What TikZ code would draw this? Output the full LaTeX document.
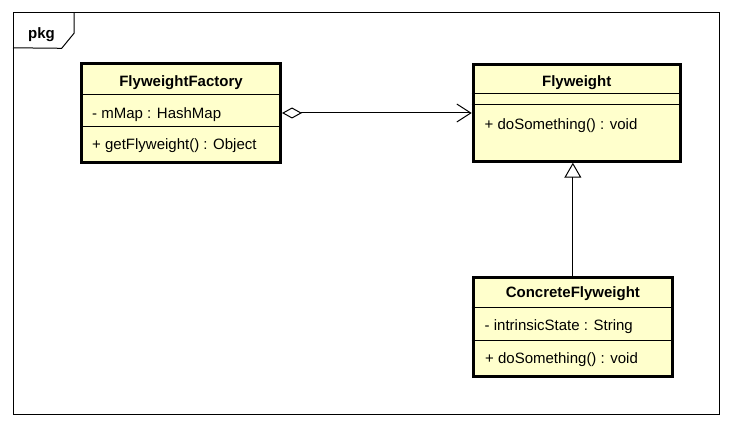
\documentclass[tikz,border=0pt]{standalone}
\usepackage{fontspec}
\setmainfont{Liberation Sans}
\usetikzlibrary{arrows.meta}
\definecolor{clsfill}{RGB}{255,255,204}
\begin{document}
\begin{tikzpicture}[x=1pt,y=-1pt,
  cls/.style={draw=black, line width=3pt, fill=clsfill, inner sep=0pt, anchor=north west},
  txt/.style={font=\fontsize{15}{18}\selectfont, inner sep=0pt, anchor=base west},
  bold/.style={font=\fontsize{15}{18}\selectfont\bfseries, inner sep=0pt, anchor=base},
  sep/.style={line width=1pt},
  conn/.style={line width=1pt}]
\useasboundingbox (0,0) rectangle (733,430);
\fill[white] (0,0) rectangle (733,430);
% frame
\node[draw, line width=1pt, inner sep=0pt, minimum width=706pt, minimum height=401pt, anchor=north west] (frame) at (12.5,12.5) {};
\draw[line width=1pt] (frame.north west) ++(0.5,35.3) -- (61.7,48.3) -- (74,33.3) -- (74,13);
\node[bold, anchor=base west] (pkg) at (28,38.5) {pkg};

% FlyweightFactory
\node[cls, minimum width=199pt, minimum height=99pt] (ff) at (80,62) {};
\draw[sep] ([yshift=-32.5pt]ff.north west) -- ([yshift=-32.5pt]ff.north east);
\draw[sep] ([yshift=-64.7pt]ff.north west) -- ([yshift=-64.7pt]ff.north east);
\node[bold] (ffname) at (ff.north |- 0,86.5) {FlyweightFactory};
\node[txt] (ffattr) at (92,118.4) {- mMap : HashMap};
\node[txt] (ffop) at (92,150) {+ getFlyweight() : Object};

% Flyweight
\node[cls, minimum width=207pt, minimum height=97pt] (fw) at (471.7,62.7) {};
\draw[sep] ([yshift=-30.6pt]fw.north west) -- ([yshift=-30.6pt]fw.north east);
\draw[sep] ([yshift=-42.3pt]fw.north west) -- ([yshift=-42.3pt]fw.north east);
\node[bold] (fwname) at (fw.north |- 0,86.4) {Flyweight};
\node[txt] (fwop) at (484.5,130) {+ doSomething() : void};

% ConcreteFlyweight
\node[cls, minimum width=199.3pt, minimum height=98.7pt] (cf) at (471.7,276) {};
\draw[sep] ([yshift=-31.3pt]cf.north west) -- ([yshift=-31.3pt]cf.north east);
\draw[sep] ([yshift=-64.7pt]cf.north west) -- ([yshift=-64.7pt]cf.north east);
\node[bold] (cfname) at (cf.north |- 0,298) {ConcreteFlyweight};
\node[txt] (cfattr) at (484.5,330.7) {- intrinsicState : String};
\node[txt] (cfop) at (485,363.4) {+ doSomething() : void};

% connectors
\draw[conn, {Diamond[open,length=20pt,width=11pt]}-{Straight Barb[length=14pt,width=18pt]}] (ff.east) -- (ff.east -| fw.west);
\draw[conn, -{Triangle[open,length=15pt,width=17pt]}] (cf.north) -- (cf.north |- fw.south);
\end{tikzpicture}
\end{document}
